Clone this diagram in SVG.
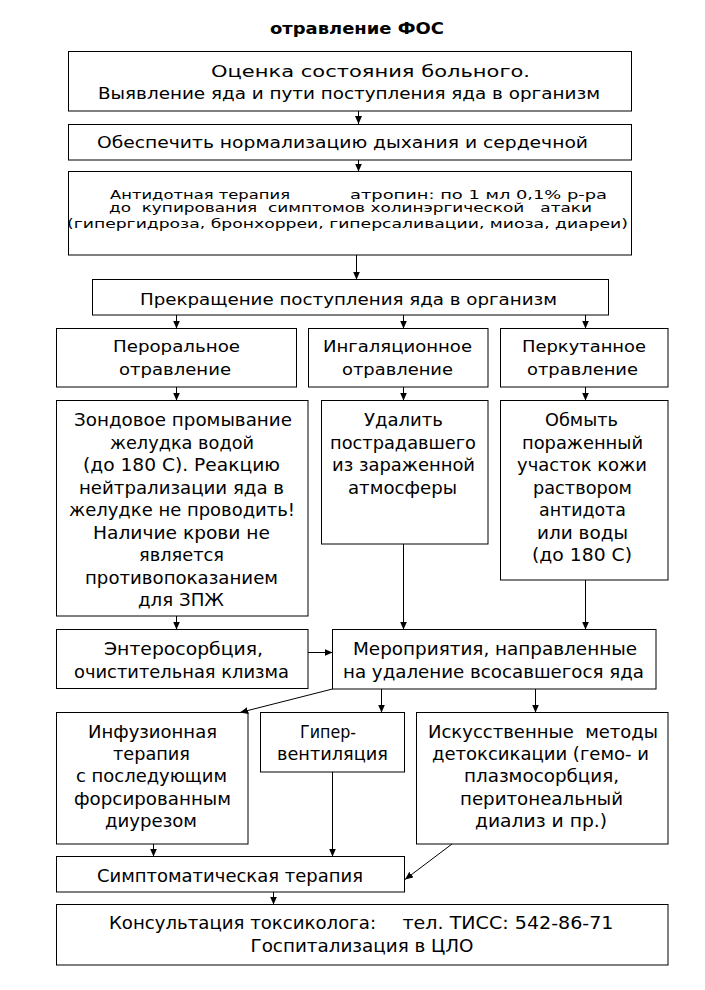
<svg xmlns="http://www.w3.org/2000/svg" width="705" height="990" viewBox="0 0 705 990">
<defs>
<style>
.b{fill:#fff;stroke:#000;stroke-width:1}
text{font-family:"DejaVu Sans","Liberation Sans",sans-serif;fill:#000}
.t{font-weight:bold;font-size:16px}
.f15{font-size:15.5px}
.f16{font-size:16px}
.f13{font-size:12.5px}
.f165{font-size:16.5px}
.f17{font-size:17px}
.f18{font-size:18px}
.c{fill:none;stroke:#000;stroke-width:1}
</style>
<marker id="ah" viewBox="0 0 8 7" refX="8" refY="3.5" markerWidth="8" markerHeight="7" markerUnits="userSpaceOnUse" orient="auto">
<path d="M0,0 L8,3.5 L0,7 z" fill="#000"/>
</marker>
</defs>
<rect width="705" height="990" fill="#fff"/>

<text id="title" class="t" x="270" y="34" textLength="174" lengthAdjust="spacingAndGlyphs">отравление ФОС</text>

<g id="n1">
<rect class="b" x="68.5" y="51.5" width="563" height="59.5"/>
<text class="f15" x="211" y="77" textLength="319" lengthAdjust="spacingAndGlyphs">Оценка состояния больного.</text>
<text class="f15" x="98" y="99" textLength="502" lengthAdjust="spacingAndGlyphs">Выявление яда и пути поступления яда в организм</text>
</g>

<g id="n2">
<rect class="b" x="68.5" y="124.5" width="563" height="35.5"/>
<text class="f16" x="97" y="148" textLength="491" lengthAdjust="spacingAndGlyphs">Обеспечить нормализацию дыхания и сердечной</text>
</g>

<g id="n3">
<rect class="b" x="68.5" y="171.5" width="563" height="83.5"/>
<text class="f13" x="110" y="199" textLength="180" lengthAdjust="spacingAndGlyphs">Антидотная терапия</text>
<text class="f13" x="350" y="199" textLength="257" lengthAdjust="spacingAndGlyphs">атропин: по 1 мл 0,1% р-ра</text>
<text class="f13" x="109" y="212" textLength="483" lengthAdjust="spacingAndGlyphs" xml:space="preserve">до  купирования  симптомов холинэргической   атаки</text>
<text class="f13" x="67" y="228" textLength="561" lengthAdjust="spacingAndGlyphs">(гипергидроза, бронхорреи, гиперсаливации, миоза, диареи)</text>
</g>

<g id="n4">
<rect class="b" x="92.5" y="279.5" width="516" height="35.5"/>
<text class="f16" x="140" y="305" textLength="417" lengthAdjust="spacingAndGlyphs">Прекращение поступления яда в организм</text>
</g>

<g id="n5a">
<rect class="b" x="56.5" y="328.5" width="240" height="58.5"/>
<text class="f165" x="113" y="352" textLength="127" lengthAdjust="spacingAndGlyphs">Пероральное</text>
<text class="f165" x="119" y="374.5" textLength="112" lengthAdjust="spacingAndGlyphs">отравление</text>
</g>
<g id="n5b">
<rect class="b" x="308.5" y="328.5" width="179.5" height="58.5"/>
<text class="f165" x="323" y="352" textLength="149" lengthAdjust="spacingAndGlyphs">Ингаляционное</text>
<text class="f165" x="342" y="374.5" textLength="111" lengthAdjust="spacingAndGlyphs">отравление</text>
</g>
<g id="n5c">
<rect class="b" x="500.5" y="328.5" width="167.5" height="58.5"/>
<text class="f165" x="522" y="352" textLength="124" lengthAdjust="spacingAndGlyphs">Перкутанное</text>
<text class="f165" x="527" y="374.5" textLength="111" lengthAdjust="spacingAndGlyphs">отравление</text>
</g>

<g id="n6a">
<rect class="b" x="56.5" y="400.5" width="251.5" height="215.5"/>
<text class="f18" x="74" y="426" textLength="218" lengthAdjust="spacingAndGlyphs">Зондовое промывание</text>
<text class="f18" x="110" y="448.5" textLength="144" lengthAdjust="spacingAndGlyphs">желудка водой</text>
<text class="f18" x="83" y="471" textLength="197" lengthAdjust="spacingAndGlyphs">(до 180 С). Реакцию</text>
<text class="f18" x="79" y="493.5" textLength="205" lengthAdjust="spacingAndGlyphs">нейтрализации яда в</text>
<text class="f18" x="69" y="516" textLength="226" lengthAdjust="spacingAndGlyphs">желудке не проводить!</text>
<text class="f18" x="93" y="538.5" textLength="177" lengthAdjust="spacingAndGlyphs">Наличие крови не</text>
<text class="f18" x="139" y="561" textLength="85" lengthAdjust="spacingAndGlyphs">является</text>
<text class="f18" x="85" y="583.5" textLength="193" lengthAdjust="spacingAndGlyphs">противопоказанием</text>
<text class="f18" x="138" y="606" textLength="86" lengthAdjust="spacingAndGlyphs">для ЗПЖ</text>
</g>
<g id="n6b">
<rect class="b" x="321.5" y="400.5" width="166.5" height="143.5"/>
<text class="f18" x="364" y="426" textLength="79" lengthAdjust="spacingAndGlyphs">Удалить</text>
<text class="f18" x="330" y="448.5" textLength="146" lengthAdjust="spacingAndGlyphs">пострадавшего</text>
<text class="f18" x="332" y="471" textLength="143" lengthAdjust="spacingAndGlyphs">из зараженной</text>
<text class="f18" x="348" y="493.5" textLength="109" lengthAdjust="spacingAndGlyphs">атмосферы</text>
</g>
<g id="n6c">
<rect class="b" x="500.5" y="400.5" width="167.5" height="179.5"/>
<text class="f18" x="545" y="426" textLength="73" lengthAdjust="spacingAndGlyphs">Обмыть</text>
<text class="f18" x="522" y="448.5" textLength="121" lengthAdjust="spacingAndGlyphs">пораженный</text>
<text class="f18" x="517" y="471" textLength="130" lengthAdjust="spacingAndGlyphs">участок кожи</text>
<text class="f18" x="533" y="493.5" textLength="99" lengthAdjust="spacingAndGlyphs">раствором</text>
<text class="f18" x="539" y="516" textLength="87" lengthAdjust="spacingAndGlyphs">антидота</text>
<text class="f18" x="537" y="538.5" textLength="91" lengthAdjust="spacingAndGlyphs">или воды</text>
<text class="f18" x="532" y="561" textLength="100" lengthAdjust="spacingAndGlyphs">(до 180 С)</text>
</g>

<g id="n7a">
<rect class="b" x="56.5" y="629.5" width="251.5" height="59"/>
<text class="f17" x="104" y="655" textLength="159" lengthAdjust="spacingAndGlyphs">Энтеросорбция,</text>
<text class="f17" x="74" y="677.5" textLength="215" lengthAdjust="spacingAndGlyphs">очистительная клизма</text>
</g>
<g id="n7b">
<rect class="b" x="332.5" y="629.5" width="323.5" height="59.5"/>
<text class="f17" x="353" y="655" textLength="284" lengthAdjust="spacingAndGlyphs">Мероприятия, направленные</text>
<text class="f17" x="343" y="677.5" textLength="301" lengthAdjust="spacingAndGlyphs">на удаление всосавшегося яда</text>
</g>

<g id="n8a">
<rect class="b" x="56.5" y="712.5" width="191.5" height="131.5"/>
<text class="f18" x="88" y="738" textLength="129" lengthAdjust="spacingAndGlyphs">Инфузионная</text>
<text class="f18" x="113" y="760" textLength="77" lengthAdjust="spacingAndGlyphs">терапия</text>
<text class="f18" x="76" y="782" textLength="151" lengthAdjust="spacingAndGlyphs">с последующим</text>
<text class="f18" x="74" y="804.5" textLength="157" lengthAdjust="spacingAndGlyphs">форсированным</text>
<text class="f18" x="105" y="827" textLength="92" lengthAdjust="spacingAndGlyphs">диурезом</text>
</g>
<g id="n8b">
<rect class="b" x="260.5" y="712.5" width="144" height="59.5"/>
<text class="f18" x="300" y="738" textLength="56" lengthAdjust="spacingAndGlyphs">Гипер-</text>
<text class="f18" x="277" y="760" textLength="111" lengthAdjust="spacingAndGlyphs">вентиляция</text>
</g>
<g id="n8c">
<rect class="b" x="416.5" y="712.5" width="251.5" height="131.5"/>
<text class="f18" x="428" y="738" textLength="230" lengthAdjust="spacingAndGlyphs" xml:space="preserve">Искусственные  методы</text>
<text class="f18" x="432" y="760" textLength="217" lengthAdjust="spacingAndGlyphs">детоксикации (гемо- и</text>
<text class="f18" x="464" y="782" textLength="155" lengthAdjust="spacingAndGlyphs">плазмосорбция,</text>
<text class="f18" x="460" y="804.5" textLength="163" lengthAdjust="spacingAndGlyphs">перитонеальный</text>
<text class="f18" x="475" y="827" textLength="132" lengthAdjust="spacingAndGlyphs">диализ и пр.)</text>
</g>

<g id="n9">
<rect class="b" x="56.5" y="856.5" width="348" height="35.5"/>
<text class="f17" x="97" y="881.5" textLength="266" lengthAdjust="spacingAndGlyphs">Симптоматическая терапия</text>
</g>

<g id="n10">
<rect class="b" x="56.5" y="904.5" width="611.5" height="60.5"/>
<text class="f17" x="109" y="929" textLength="267" lengthAdjust="spacingAndGlyphs">Консультация токсиколога:</text>
<text class="f17" x="402.5" y="929" textLength="211" lengthAdjust="spacingAndGlyphs">тел. ТИСС: 542-86-71</text>
<text class="f17" x="250.5" y="952" textLength="223" lengthAdjust="spacingAndGlyphs">Госпитализация в ЦЛО</text>
</g>

<g id="connectors">
<line class="c" x1="358.5" y1="111" x2="358.5" y2="124" marker-end="url(#ah)"/>
<line class="c" x1="358.5" y1="160" x2="358.5" y2="171.5" marker-end="url(#ah)"/>
<line class="c" x1="356.5" y1="255" x2="356.5" y2="279.5" marker-end="url(#ah)"/>
<line class="c" x1="176.5" y1="315" x2="176.5" y2="328.5" marker-end="url(#ah)"/>
<line class="c" x1="403.5" y1="315" x2="403.5" y2="328.5" marker-end="url(#ah)"/>
<line class="c" x1="585.5" y1="315" x2="585.5" y2="328.5" marker-end="url(#ah)"/>
<line class="c" x1="176.5" y1="387" x2="176.5" y2="400.5" marker-end="url(#ah)"/>
<line class="c" x1="403.5" y1="387" x2="403.5" y2="400.5" marker-end="url(#ah)"/>
<line class="c" x1="585.5" y1="387" x2="585.5" y2="400.5" marker-end="url(#ah)"/>
<line class="c" x1="176.5" y1="616" x2="176.5" y2="629.5" marker-end="url(#ah)"/>
<line class="c" x1="403.5" y1="544" x2="403.5" y2="629.5" marker-end="url(#ah)"/>
<line class="c" x1="585.5" y1="580" x2="585.5" y2="629.5" marker-end="url(#ah)"/>
<line class="c" x1="308" y1="652.5" x2="332.5" y2="652.5" marker-end="url(#ah)"/>
<line class="c" x1="332.5" y1="689" x2="240" y2="712.5" marker-end="url(#ah)"/>
<line class="c" x1="381.5" y1="689" x2="381.5" y2="712.5" marker-end="url(#ah)"/>
<line class="c" x1="535.5" y1="689" x2="535.5" y2="712.5" marker-end="url(#ah)"/>
<line class="c" x1="153.5" y1="844" x2="153.5" y2="856.5" marker-end="url(#ah)"/>
<line class="c" x1="332.5" y1="772" x2="332.5" y2="856.5" marker-end="url(#ah)"/>
<line class="c" x1="452" y1="844" x2="405" y2="879.5" marker-end="url(#ah)"/>
<line class="c" x1="273.5" y1="892" x2="273.5" y2="904.5" marker-end="url(#ah)"/>
</g>
</svg>
